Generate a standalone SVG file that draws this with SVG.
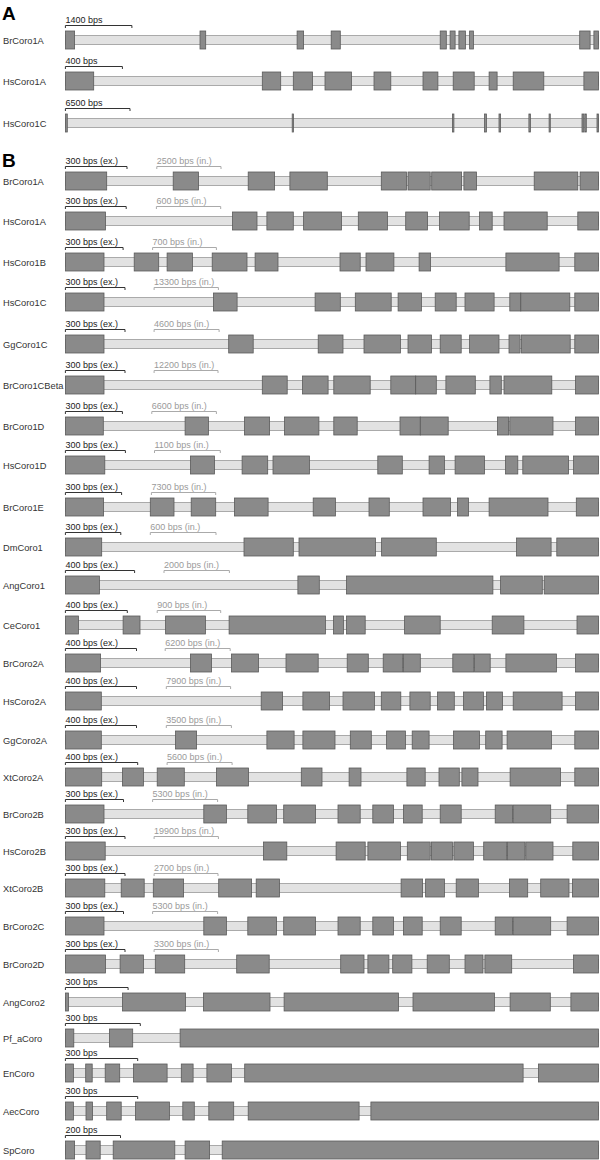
<svg xmlns="http://www.w3.org/2000/svg" width="600" height="1160" viewBox="0 0 600 1160">
<style>
.lbl{font-family:"Liberation Sans",Arial,sans-serif;font-size:9.3px;fill:#333}
.sc{font-family:"Liberation Sans",Arial,sans-serif;font-size:9px;fill:#222}
.sci{font-family:"Liberation Sans",Arial,sans-serif;font-size:9px;fill:#9a9a9a}
.bar{stroke:#333;stroke-width:1;fill:none}
.bari{stroke:#aaa;stroke-width:1;fill:none}
.ex{fill:#8a8a8a;stroke:#5a5a5a;stroke-width:0.8}
.in{fill:#e2e2e2;stroke:#999;stroke-width:0.8}
.hd{font-family:"Liberation Sans",Arial,sans-serif;font-size:19px;font-weight:bold;fill:#000}
</style>
<rect width="600" height="1160" fill="#fff"/>
<text class="hd" x="2" y="20">A</text>
<text class="hd" x="2" y="167">B</text>

<g id="a-BrCoro1A" transform="translate(0,31)">
<text class="lbl" x="3" y="12.5">BrCoro1A</text>
<text class="sc" x="65.4" y="-8">1400 bps</text>
<path class="bar" d="M65.4 -5.5H131.9M65.4 -5.5V-3M131.9 -5.5V-3"/>
<rect class="in" x="65.4" y="4.5" width="533.1" height="9"/>
<rect class="ex" x="65.4" y="0" width="9.2" height="18"/><rect class="ex" x="200" y="0" width="5.7" height="18"/><rect class="ex" x="297.1" y="0" width="6.5" height="18"/><rect class="ex" x="331.2" y="0" width="9.1" height="18"/><rect class="ex" x="440.2" y="0" width="6.1" height="18"/><rect class="ex" x="450.1" y="0" width="5" height="18"/><rect class="ex" x="458.9" y="0" width="6.5" height="18"/><rect class="ex" x="469.6" y="0" width="3.8" height="18"/><rect class="ex" x="579.7" y="0" width="10.4" height="18"/><rect class="ex" x="593.9" y="0" width="4.6" height="18"/>
</g>
<g id="a-HsCoro1A" transform="translate(0,72)">
<text class="lbl" x="3" y="12.5">HsCoro1A</text>
<text class="sc" x="65.4" y="-8">400 bps</text>
<path class="bar" d="M65.4 -5.5H122.4M65.4 -5.5V-3M122.4 -5.5V-3"/>
<rect class="in" x="65.4" y="4.5" width="533.1" height="9"/>
<rect class="ex" x="65.4" y="0" width="28.3" height="18"/><rect class="ex" x="262.3" y="0" width="18.4" height="18"/><rect class="ex" x="293.3" y="0" width="19.1" height="18"/><rect class="ex" x="325" y="0" width="26.4" height="18"/><rect class="ex" x="374" y="0" width="16.8" height="18"/><rect class="ex" x="423" y="0" width="14.9" height="18"/><rect class="ex" x="453.2" y="0" width="21" height="18"/><rect class="ex" x="489.1" y="0" width="8" height="18"/><rect class="ex" x="513.2" y="0" width="30.6" height="18"/><rect class="ex" x="583.9" y="0" width="14.6" height="18"/>
</g>
<g id="a-HsCoro1C" transform="translate(0,114)">
<text class="lbl" x="3" y="12.5">HsCoro1C</text>
<text class="sc" x="65.4" y="-8">6500 bps</text>
<path class="bar" d="M65.4 -5.5H130M65.4 -5.5V-3M130 -5.5V-3"/>
<rect class="in" x="65.4" y="4.5" width="533.1" height="9"/>
<rect class="ex" x="65.4" y="0" width="1.9" height="18"/><rect class="ex" x="292.2" y="0" width="1.2" height="18"/><rect class="ex" x="452.4" y="0" width="1.5" height="18"/><rect class="ex" x="484.5" y="0" width="1.9" height="18"/><rect class="ex" x="499" y="0" width="1.6" height="18"/><rect class="ex" x="528.9" y="0" width="1.5" height="18"/><rect class="ex" x="549.1" y="0" width="1.2" height="18"/><rect class="ex" x="582" y="0" width="1.8" height="18"/><rect class="ex" x="584.8" y="0" width="1.5" height="18"/><rect class="ex" x="597" y="0" width="1.5" height="18"/>
</g>

<g id="b-BrCoro1A" transform="translate(0,172)">
<text class="lbl" x="3" y="12.5">BrCoro1A</text>
<text class="sc" x="65.4" y="-8">300 bps (ex.)</text>
<path class="bar" d="M65.4 -5.5H127M65.4 -5.5V-3M127 -5.5V-3"/>
<text class="sci" x="156.8" y="-8">2500 bps (in.)</text>
<path class="bari" d="M156.8 -5.5H221M156.8 -5.5V-3M221 -5.5V-3"/>
<rect class="in" x="65.4" y="4.5" width="533.1" height="9"/>
<rect class="ex" x="65.4" y="0" width="41.3" height="18"/><rect class="ex" x="173.2" y="0" width="25.3" height="18"/><rect class="ex" x="248.2" y="0" width="26.4" height="18"/><rect class="ex" x="289.9" y="0" width="37.4" height="18"/><rect class="ex" x="381.3" y="0" width="25.2" height="18"/><rect class="ex" x="408" y="0" width="22.2" height="18"/><rect class="ex" x="431.7" y="0" width="29.9" height="18"/><rect class="ex" x="463.9" y="0" width="12.6" height="18"/><rect class="ex" x="534.2" y="0" width="43.6" height="18"/><rect class="ex" x="580.1" y="0" width="18.4" height="18"/>
</g>
<g id="b-HsCoro1A" transform="translate(0,212)">
<text class="lbl" x="3" y="12.5">HsCoro1A</text>
<text class="sc" x="65.4" y="-8">300 bps (ex.)</text>
<path class="bar" d="M65.4 -5.5H126.2M65.4 -5.5V-3M126.2 -5.5V-3"/>
<text class="sci" x="156.4" y="-8">600 bps (in.)</text>
<path class="bari" d="M156.4 -5.5H220.7M156.4 -5.5V-3M220.7 -5.5V-3"/>
<rect class="in" x="65.4" y="4.5" width="533.1" height="9"/>
<rect class="ex" x="65.4" y="0" width="40.1" height="18"/><rect class="ex" x="232.5" y="0" width="24.5" height="18"/><rect class="ex" x="266.9" y="0" width="26.4" height="18"/><rect class="ex" x="303.6" y="0" width="37.9" height="18"/><rect class="ex" x="358.3" y="0" width="29.1" height="18"/><rect class="ex" x="405.7" y="0" width="21.8" height="18"/><rect class="ex" x="439.4" y="0" width="29.8" height="18"/><rect class="ex" x="479.5" y="0" width="12.7" height="18"/><rect class="ex" x="504" y="0" width="43.2" height="18"/><rect class="ex" x="577.8" y="0" width="20.7" height="18"/>
</g>
<g id="b-HsCoro1B" transform="translate(0,253)">
<text class="lbl" x="3" y="12.5">HsCoro1B</text>
<text class="sc" x="65.4" y="-8">300 bps (ex.)</text>
<path class="bar" d="M65.4 -5.5H123.1M65.4 -5.5V-3M123.1 -5.5V-3"/>
<text class="sci" x="152.6" y="-8">700 bps (in.)</text>
<path class="bari" d="M152.6 -5.5H216.4M152.6 -5.5V-3M216.4 -5.5V-3"/>
<rect class="in" x="65.4" y="4.5" width="533.1" height="9"/>
<rect class="ex" x="65.4" y="0" width="38.6" height="18"/><rect class="ex" x="134.2" y="0" width="24.5" height="18"/><rect class="ex" x="167.1" y="0" width="25.3" height="18"/><rect class="ex" x="212.2" y="0" width="34.8" height="18"/><rect class="ex" x="255.1" y="0" width="22.9" height="18"/><rect class="ex" x="340" y="0" width="20.2" height="18"/><rect class="ex" x="366" y="0" width="27.9" height="18"/><rect class="ex" x="419.1" y="0" width="11.5" height="18"/><rect class="ex" x="505.9" y="0" width="53.2" height="18"/><rect class="ex" x="574.8" y="0" width="23.7" height="18"/>
</g>
<g id="b-HsCoro1C" transform="translate(0,293)">
<text class="lbl" x="3" y="12.5">HsCoro1C</text>
<text class="sc" x="65.4" y="-8">300 bps (ex.)</text>
<path class="bar" d="M65.4 -5.5H125M65.4 -5.5V-3M125 -5.5V-3"/>
<text class="sci" x="154.1" y="-8">13300 bps (in.)</text>
<path class="bari" d="M154.1 -5.5H218.4M154.1 -5.5V-3M218.4 -5.5V-3"/>
<rect class="in" x="65.4" y="4.5" width="533.1" height="9"/>
<rect class="ex" x="65.4" y="0" width="38.6" height="18"/><rect class="ex" x="213.4" y="0" width="23.7" height="18"/><rect class="ex" x="315.1" y="0" width="25.2" height="18"/><rect class="ex" x="355.3" y="0" width="35.9" height="18"/><rect class="ex" x="398.1" y="0" width="23.3" height="18"/><rect class="ex" x="435.2" y="0" width="21" height="18"/><rect class="ex" x="465" y="0" width="29.1" height="18"/><rect class="ex" x="509.8" y="0" width="11" height="18"/><rect class="ex" x="520.8" y="0" width="49" height="18"/><rect class="ex" x="574.8" y="0" width="23.7" height="18"/>
</g>
<g id="b-GgCoro1C" transform="translate(0,335)">
<text class="lbl" x="3" y="12.5">GgCoro1C</text>
<text class="sc" x="65.4" y="-8">300 bps (ex.)</text>
<path class="bar" d="M65.4 -5.5H125M65.4 -5.5V-3M125 -5.5V-3"/>
<text class="sci" x="154.1" y="-8">4600 bps (in.)</text>
<path class="bari" d="M154.1 -5.5H219.1M154.1 -5.5V-3M219.1 -5.5V-3"/>
<rect class="in" x="65.4" y="4.5" width="533.1" height="9"/>
<rect class="ex" x="65.4" y="0" width="38.6" height="18"/><rect class="ex" x="228.7" y="0" width="24.5" height="18"/><rect class="ex" x="318.2" y="0" width="24.8" height="18"/><rect class="ex" x="364" y="0" width="36.4" height="18"/><rect class="ex" x="408" y="0" width="23.4" height="18"/><rect class="ex" x="440.2" y="0" width="21" height="18"/><rect class="ex" x="469.6" y="0" width="29.4" height="18"/><rect class="ex" x="509" y="0" width="11.1" height="18"/><rect class="ex" x="521.6" y="0" width="48.6" height="18"/><rect class="ex" x="574.8" y="0" width="23.7" height="18"/>
</g>
<g id="b-BrCoro1CBeta" transform="translate(0,376)">
<text class="lbl" x="3" y="12.5">BrCoro1CBeta</text>
<text class="sc" x="65.4" y="-8">300 bps (ex.)</text>
<path class="bar" d="M65.4 -5.5H125M65.4 -5.5V-3M125 -5.5V-3"/>
<text class="sci" x="154.1" y="-8">12200 bps (in.)</text>
<path class="bari" d="M154.1 -5.5H218M154.1 -5.5V-3M218 -5.5V-3"/>
<rect class="in" x="65.4" y="4.5" width="533.1" height="9"/>
<rect class="ex" x="65.4" y="0" width="38.6" height="18"/><rect class="ex" x="262.3" y="0" width="24.9" height="18"/><rect class="ex" x="302.5" y="0" width="25.6" height="18"/><rect class="ex" x="333.8" y="0" width="36.4" height="18"/><rect class="ex" x="390.8" y="0" width="24.9" height="18"/><rect class="ex" x="415.7" y="0" width="20.6" height="18"/><rect class="ex" x="445.9" y="0" width="29.4" height="18"/><rect class="ex" x="489.9" y="0" width="11.4" height="18"/><rect class="ex" x="504" y="0" width="47.8" height="18"/><rect class="ex" x="575.5" y="0" width="23" height="18"/>
</g>
<g id="b-BrCoro1D" transform="translate(0,417)">
<text class="lbl" x="3" y="12.5">BrCoro1D</text>
<text class="sc" x="65.4" y="-8">300 bps (ex.)</text>
<path class="bar" d="M65.4 -5.5H122.4M65.4 -5.5V-3M122.4 -5.5V-3"/>
<text class="sci" x="151.8" y="-8">6600 bps (in.)</text>
<path class="bari" d="M151.8 -5.5H216.4M151.8 -5.5V-3M216.4 -5.5V-3"/>
<rect class="in" x="65.4" y="4.5" width="533.1" height="9"/>
<rect class="ex" x="65.4" y="0" width="37.9" height="18"/><rect class="ex" x="185.1" y="0" width="23.3" height="18"/><rect class="ex" x="244.4" y="0" width="25.2" height="18"/><rect class="ex" x="284.5" y="0" width="34.4" height="18"/><rect class="ex" x="333.8" y="0" width="23.4" height="18"/><rect class="ex" x="400" y="0" width="20.3" height="18"/><rect class="ex" x="420.3" y="0" width="27.9" height="18"/><rect class="ex" x="497.5" y="0" width="11.1" height="18"/><rect class="ex" x="509.8" y="0" width="43.2" height="18"/><rect class="ex" x="575.5" y="0" width="23" height="18"/>
</g>
<g id="b-HsCoro1D" transform="translate(0,456)">
<text class="lbl" x="3" y="12.5">HsCoro1D</text>
<text class="sc" x="65.4" y="-8">300 bps (ex.)</text>
<path class="bar" d="M65.4 -5.5H125.4M65.4 -5.5V-3M125.4 -5.5V-3"/>
<text class="sci" x="154.5" y="-8">1100 bps (in.)</text>
<path class="bari" d="M154.5 -5.5H220.3M154.5 -5.5V-3M220.3 -5.5V-3"/>
<rect class="in" x="65.4" y="4.5" width="533.1" height="9"/>
<rect class="ex" x="65.4" y="0" width="39.4" height="18"/><rect class="ex" x="190.4" y="0" width="24.1" height="18"/><rect class="ex" x="242.1" y="0" width="25.6" height="18"/><rect class="ex" x="273" y="0" width="36.4" height="18"/><rect class="ex" x="377.8" y="0" width="24.5" height="18"/><rect class="ex" x="429.1" y="0" width="15.3" height="18"/><rect class="ex" x="455.1" y="0" width="29.4" height="18"/><rect class="ex" x="505.5" y="0" width="12.3" height="18"/><rect class="ex" x="522.8" y="0" width="45.8" height="18"/><rect class="ex" x="573.6" y="0" width="24.9" height="18"/>
</g>
<g id="b-BrCoro1E" transform="translate(0,498)">
<text class="lbl" x="3" y="12.5">BrCoro1E</text>
<text class="sc" x="65.4" y="-8">300 bps (ex.)</text>
<path class="bar" d="M65.4 -5.5H121.6M65.4 -5.5V-3M121.6 -5.5V-3"/>
<text class="sci" x="151.4" y="-8">7300 bps (in.)</text>
<path class="bari" d="M151.4 -5.5H215.7M151.4 -5.5V-3M215.7 -5.5V-3"/>
<rect class="in" x="65.4" y="4.5" width="533.1" height="9"/>
<rect class="ex" x="65.4" y="0" width="38.2" height="18"/><rect class="ex" x="150.3" y="0" width="23.7" height="18"/><rect class="ex" x="191.2" y="0" width="24.5" height="18"/><rect class="ex" x="234.4" y="0" width="33.7" height="18"/><rect class="ex" x="313.2" y="0" width="22.2" height="18"/><rect class="ex" x="369" y="0" width="20.3" height="18"/><rect class="ex" x="423" y="0" width="27.5" height="18"/><rect class="ex" x="457.4" y="0" width="11.1" height="18"/><rect class="ex" x="489.1" y="0" width="58.9" height="18"/><rect class="ex" x="576.3" y="0" width="22.2" height="18"/>
</g>
<g id="b-DmCoro1" transform="translate(0,538)">
<text class="lbl" x="3" y="12.5">DmCoro1</text>
<text class="sc" x="65.4" y="-8">300 bps (ex.)</text>
<path class="bar" d="M65.4 -5.5H120.8M65.4 -5.5V-3M120.8 -5.5V-3"/>
<text class="sci" x="150.3" y="-8">600 bps (in.)</text>
<path class="bari" d="M150.3 -5.5H216M150.3 -5.5V-3M216 -5.5V-3"/>
<rect class="in" x="65.4" y="4.5" width="533.1" height="9"/>
<rect class="ex" x="65.4" y="0" width="36.3" height="18"/><rect class="ex" x="244" y="0" width="49.3" height="18"/><rect class="ex" x="299" y="0" width="76.5" height="18"/><rect class="ex" x="381.6" y="0" width="54.7" height="18"/><rect class="ex" x="516.6" y="0" width="34.5" height="18"/><rect class="ex" x="556.8" y="0" width="41.7" height="18"/>
</g>
<g id="b-AngCoro1" transform="translate(0,576)">
<text class="lbl" x="3" y="12.5">AngCoro1</text>
<text class="sc" x="65.4" y="-8">400 bps (ex.)</text>
<path class="bar" d="M65.4 -5.5H134.6M65.4 -5.5V-3M134.6 -5.5V-3"/>
<text class="sci" x="164" y="-8">2000 bps (in.)</text>
<path class="bari" d="M164 -5.5H229.4M164 -5.5V-3M229.4 -5.5V-3"/>
<rect class="in" x="65.4" y="4.5" width="533.1" height="9"/>
<rect class="ex" x="65.4" y="0" width="34" height="18"/><rect class="ex" x="297.9" y="0" width="21.4" height="18"/><rect class="ex" x="346.5" y="0" width="146.4" height="18"/><rect class="ex" x="500.6" y="0" width="41.7" height="18"/><rect class="ex" x="544.2" y="0" width="54.3" height="18"/>
</g>
<g id="b-CeCoro1" transform="translate(0,616)">
<text class="lbl" x="3" y="12.5">CeCoro1</text>
<text class="sc" x="65.4" y="-8">400 bps (ex.)</text>
<path class="bar" d="M65.4 -5.5H127.3M65.4 -5.5V-3M127.3 -5.5V-3"/>
<text class="sci" x="157.2" y="-8">900 bps (in.)</text>
<path class="bari" d="M157.2 -5.5H220.7M157.2 -5.5V-3M220.7 -5.5V-3"/>
<rect class="in" x="65.4" y="4.5" width="533.1" height="9"/>
<rect class="ex" x="65.4" y="0" width="13" height="18"/><rect class="ex" x="123.1" y="0" width="16.9" height="18"/><rect class="ex" x="165.6" y="0" width="39.8" height="18"/><rect class="ex" x="229.1" y="0" width="96.3" height="18"/><rect class="ex" x="333.5" y="0" width="9.9" height="18"/><rect class="ex" x="346.5" y="0" width="18.7" height="18"/><rect class="ex" x="404.6" y="0" width="35.6" height="18"/><rect class="ex" x="492.2" y="0" width="31.7" height="18"/><rect class="ex" x="577" y="0" width="21.5" height="18"/>
</g>
<g id="b-BrCoro2A" transform="translate(0,654)">
<text class="lbl" x="3" y="12.5">BrCoro2A</text>
<text class="sc" x="65.4" y="-8">400 bps (ex.)</text>
<path class="bar" d="M65.4 -5.5H136.5M65.4 -5.5V-3M136.5 -5.5V-3"/>
<text class="sci" x="165.2" y="-8">6200 bps (in.)</text>
<path class="bari" d="M165.2 -5.5H230.2M165.2 -5.5V-3M230.2 -5.5V-3"/>
<rect class="in" x="65.4" y="4.5" width="533.1" height="9"/>
<rect class="ex" x="65.4" y="0" width="35.2" height="18"/><rect class="ex" x="190.4" y="0" width="21.1" height="18"/><rect class="ex" x="231.4" y="0" width="27.1" height="18"/><rect class="ex" x="286" y="0" width="32.2" height="18"/><rect class="ex" x="347.2" y="0" width="21.1" height="18"/><rect class="ex" x="383.2" y="0" width="19.5" height="18"/><rect class="ex" x="403.4" y="0" width="16.9" height="18"/><rect class="ex" x="452.8" y="0" width="21" height="18"/><rect class="ex" x="474.6" y="0" width="15.6" height="18"/><rect class="ex" x="505.9" y="0" width="50.5" height="18"/><rect class="ex" x="575.5" y="0" width="23" height="18"/>
</g>
<g id="b-HsCoro2A" transform="translate(0,692)">
<text class="lbl" x="3" y="12.5">HsCoro2A</text>
<text class="sc" x="65.4" y="-8">400 bps (ex.)</text>
<path class="bar" d="M65.4 -5.5H136.5M65.4 -5.5V-3M136.5 -5.5V-3"/>
<text class="sci" x="166.3" y="-8">7900 bps (in.)</text>
<path class="bari" d="M166.3 -5.5H230.6M166.3 -5.5V-3M230.6 -5.5V-3"/>
<rect class="in" x="65.4" y="4.5" width="533.1" height="9"/>
<rect class="ex" x="65.4" y="0" width="35.9" height="18"/><rect class="ex" x="261.2" y="0" width="21.4" height="18"/><rect class="ex" x="302.9" y="0" width="26.7" height="18"/><rect class="ex" x="343" y="0" width="31.4" height="18"/><rect class="ex" x="381.3" y="0" width="19.5" height="18"/><rect class="ex" x="409.9" y="0" width="20.3" height="18"/><rect class="ex" x="437.5" y="0" width="16.8" height="18"/><rect class="ex" x="463.5" y="0" width="19.9" height="18"/><rect class="ex" x="486.4" y="0" width="16.1" height="18"/><rect class="ex" x="513.2" y="0" width="48.9" height="18"/><rect class="ex" x="575.5" y="0" width="23" height="18"/>
</g>
<g id="b-GgCoro2A" transform="translate(0,731)">
<text class="lbl" x="3" y="12.5">GgCoro2A</text>
<text class="sc" x="65.4" y="-8">400 bps (ex.)</text>
<path class="bar" d="M65.4 -5.5H136.5M65.4 -5.5V-3M136.5 -5.5V-3"/>
<text class="sci" x="166.3" y="-8">3500 bps (in.)</text>
<path class="bari" d="M166.3 -5.5H231.4M166.3 -5.5V-3M231.4 -5.5V-3"/>
<rect class="in" x="65.4" y="4.5" width="533.1" height="9"/>
<rect class="ex" x="65.4" y="0" width="35.9" height="18"/><rect class="ex" x="175.5" y="0" width="21.1" height="18"/><rect class="ex" x="266.9" y="0" width="27.2" height="18"/><rect class="ex" x="302.9" y="0" width="32.1" height="18"/><rect class="ex" x="350.3" y="0" width="21" height="18"/><rect class="ex" x="386.6" y="0" width="18.8" height="18"/><rect class="ex" x="412.2" y="0" width="16.9" height="18"/><rect class="ex" x="453.5" y="0" width="26" height="18"/><rect class="ex" x="485.7" y="0" width="16.4" height="18"/><rect class="ex" x="507.1" y="0" width="44.3" height="18"/><rect class="ex" x="574.8" y="0" width="23.7" height="18"/>
</g>
<g id="b-XtCoro2A" transform="translate(0,768)">
<text class="lbl" x="3" y="12.5">XtCoro2A</text>
<text class="sc" x="65.4" y="-8">400 bps (ex.)</text>
<path class="bar" d="M65.4 -5.5H137.7M65.4 -5.5V-3M137.7 -5.5V-3"/>
<text class="sci" x="167.1" y="-8">5600 bps (in.)</text>
<path class="bari" d="M167.1 -5.5H232.1M167.1 -5.5V-3M232.1 -5.5V-3"/>
<rect class="in" x="65.4" y="4.5" width="533.1" height="9"/>
<rect class="ex" x="65.4" y="0" width="36.3" height="18"/><rect class="ex" x="122.4" y="0" width="21" height="18"/><rect class="ex" x="157.2" y="0" width="27.1" height="18"/><rect class="ex" x="216.4" y="0" width="32.2" height="18"/><rect class="ex" x="301.3" y="0" width="20.7" height="18"/><rect class="ex" x="349.1" y="0" width="11.9" height="18"/><rect class="ex" x="406.9" y="0" width="18.3" height="18"/><rect class="ex" x="439" y="0" width="20.3" height="18"/><rect class="ex" x="461.9" y="0" width="16.1" height="18"/><rect class="ex" x="510.1" y="0" width="50.5" height="18"/><rect class="ex" x="574.8" y="0" width="23.7" height="18"/>
</g>
<g id="b-BrCoro2B" transform="translate(0,805)">
<text class="lbl" x="3" y="12.5">BrCoro2B</text>
<text class="sc" x="65.4" y="-8">300 bps (ex.)</text>
<path class="bar" d="M65.4 -5.5H123.5M65.4 -5.5V-3M123.5 -5.5V-3"/>
<text class="sci" x="152.6" y="-8">5300 bps (in.)</text>
<path class="bari" d="M152.6 -5.5H217.6M152.6 -5.5V-3M217.6 -5.5V-3"/>
<rect class="in" x="65.4" y="4.5" width="533.1" height="9"/>
<rect class="ex" x="65.4" y="0" width="38.6" height="18"/><rect class="ex" x="203.8" y="0" width="22.6" height="18"/><rect class="ex" x="247.8" y="0" width="28.7" height="18"/><rect class="ex" x="283.7" y="0" width="31.8" height="18"/><rect class="ex" x="338" y="0" width="22.2" height="18"/><rect class="ex" x="372.8" y="0" width="20.7" height="18"/><rect class="ex" x="403.4" y="0" width="18.8" height="18"/><rect class="ex" x="440.2" y="0" width="21" height="18"/><rect class="ex" x="495.2" y="0" width="17.2" height="18"/><rect class="ex" x="513.2" y="0" width="37.5" height="18"/><rect class="ex" x="567.1" y="0" width="31.4" height="18"/>
</g>
<g id="b-HsCoro2B" transform="translate(0,842)">
<text class="lbl" x="3" y="12.5">HsCoro2B</text>
<text class="sc" x="65.4" y="-8">300 bps (ex.)</text>
<path class="bar" d="M65.4 -5.5H125M65.4 -5.5V-3M125 -5.5V-3"/>
<text class="sci" x="154.1" y="-8">19900 bps (in.)</text>
<path class="bari" d="M154.1 -5.5H218.4M154.1 -5.5V-3M218.4 -5.5V-3"/>
<rect class="in" x="65.4" y="4.5" width="533.1" height="9"/>
<rect class="ex" x="65.4" y="0" width="39.8" height="18"/><rect class="ex" x="263.5" y="0" width="23.3" height="18"/><rect class="ex" x="336.1" y="0" width="29.1" height="18"/><rect class="ex" x="367.9" y="0" width="32.5" height="18"/><rect class="ex" x="407.3" y="0" width="22.9" height="18"/><rect class="ex" x="431.4" y="0" width="21" height="18"/><rect class="ex" x="453.9" y="0" width="19.5" height="18"/><rect class="ex" x="483.7" y="0" width="23" height="18"/><rect class="ex" x="507.5" y="0" width="17.5" height="18"/><rect class="ex" x="525.8" y="0" width="27.2" height="18"/><rect class="ex" x="572.8" y="0" width="25.7" height="18"/>
</g>
<g id="b-XtCoro2B" transform="translate(0,879)">
<text class="lbl" x="3" y="12.5">XtCoro2B</text>
<text class="sc" x="65.4" y="-8">300 bps (ex.)</text>
<path class="bar" d="M65.4 -5.5H125M65.4 -5.5V-3M125 -5.5V-3"/>
<text class="sci" x="154.1" y="-8">2700 bps (in.)</text>
<path class="bari" d="M154.1 -5.5H218M154.1 -5.5V-3M218 -5.5V-3"/>
<rect class="in" x="65.4" y="4.5" width="533.1" height="9"/>
<rect class="ex" x="65.4" y="0" width="39.4" height="18"/><rect class="ex" x="121.2" y="0" width="23" height="18"/><rect class="ex" x="153.3" y="0" width="30.3" height="18"/><rect class="ex" x="218.7" y="0" width="32.9" height="18"/><rect class="ex" x="256.2" y="0" width="23.3" height="18"/><rect class="ex" x="401.1" y="0" width="21.5" height="18"/><rect class="ex" x="425.6" y="0" width="18.8" height="18"/><rect class="ex" x="456.2" y="0" width="22.2" height="18"/><rect class="ex" x="509.4" y="0" width="18.3" height="18"/><rect class="ex" x="540.7" y="0" width="28.3" height="18"/><rect class="ex" x="572.4" y="0" width="26.1" height="18"/>
</g>
<g id="b-BrCoro2C" transform="translate(0,917)">
<text class="lbl" x="3" y="12.5">BrCoro2C</text>
<text class="sc" x="65.4" y="-8">300 bps (ex.)</text>
<path class="bar" d="M65.4 -5.5H123.5M65.4 -5.5V-3M123.5 -5.5V-3"/>
<text class="sci" x="152.6" y="-8">5300 bps (in.)</text>
<path class="bari" d="M152.6 -5.5H217.6M152.6 -5.5V-3M217.6 -5.5V-3"/>
<rect class="in" x="65.4" y="4.5" width="533.1" height="9"/>
<rect class="ex" x="65.4" y="0" width="38.6" height="18"/><rect class="ex" x="203.8" y="0" width="22.6" height="18"/><rect class="ex" x="247.8" y="0" width="28.7" height="18"/><rect class="ex" x="283.7" y="0" width="31.8" height="18"/><rect class="ex" x="338" y="0" width="22.2" height="18"/><rect class="ex" x="372.8" y="0" width="20.7" height="18"/><rect class="ex" x="403.4" y="0" width="18.8" height="18"/><rect class="ex" x="440.2" y="0" width="21" height="18"/><rect class="ex" x="495.2" y="0" width="17.2" height="18"/><rect class="ex" x="513.2" y="0" width="37.5" height="18"/><rect class="ex" x="567.1" y="0" width="31.4" height="18"/>
</g>
<g id="b-BrCoro2D" transform="translate(0,955)">
<text class="lbl" x="3" y="12.5">BrCoro2D</text>
<text class="sc" x="65.4" y="-8">300 bps (ex.)</text>
<path class="bar" d="M65.4 -5.5H125M65.4 -5.5V-3M125 -5.5V-3"/>
<text class="sci" x="154.1" y="-8">3300 bps (in.)</text>
<path class="bari" d="M154.1 -5.5H218.4M154.1 -5.5V-3M218.4 -5.5V-3"/>
<rect class="in" x="65.4" y="4.5" width="533.1" height="9"/>
<rect class="ex" x="65.4" y="0" width="40.1" height="18"/><rect class="ex" x="120.1" y="0" width="23.3" height="18"/><rect class="ex" x="155.3" y="0" width="29.4" height="18"/><rect class="ex" x="236.7" y="0" width="32.5" height="18"/><rect class="ex" x="340.7" y="0" width="23.3" height="18"/><rect class="ex" x="367.9" y="0" width="21" height="18"/><rect class="ex" x="392.7" y="0" width="19.2" height="18"/><rect class="ex" x="427.2" y="0" width="22.1" height="18"/><rect class="ex" x="465" y="0" width="18" height="18"/><rect class="ex" x="484.9" y="0" width="26.8" height="18"/><rect class="ex" x="573.6" y="0" width="24.9" height="18"/>
</g>
<g id="b-AngCoro2" transform="translate(0,993)">
<text class="lbl" x="3" y="12.5">AngCoro2</text>
<text class="sc" x="65.4" y="-8">300 bps</text>
<path class="bar" d="M65.4 -5.5H128.1M65.4 -5.5V-3M128.1 -5.5V-3"/>
<rect class="in" x="65.4" y="4.5" width="533.1" height="9"/>
<rect class="ex" x="65.4" y="0" width="3.1" height="18"/><rect class="ex" x="122.4" y="0" width="63.1" height="18"/><rect class="ex" x="203.4" y="0" width="66.6" height="18"/><rect class="ex" x="284.1" y="0" width="114.4" height="18"/><rect class="ex" x="413" y="0" width="81.5" height="18"/><rect class="ex" x="510.1" y="0" width="40.2" height="18"/><rect class="ex" x="570.9" y="0" width="27.6" height="18"/>
</g>
<g id="b-Pf_aCoro" transform="translate(0,1029)">
<text class="lbl" x="3" y="12.5">Pf_aCoro</text>
<text class="sc" x="65.4" y="-8">300 bps</text>
<path class="bar" d="M65.4 -5.5H140.3M65.4 -5.5V-3M140.3 -5.5V-3"/>
<rect class="in" x="65.4" y="4.5" width="533.1" height="9"/>
<rect class="ex" x="65.4" y="0" width="8.4" height="18"/><rect class="ex" x="109.4" y="0" width="23.3" height="18"/><rect class="ex" x="180.1" y="0" width="418.4" height="18"/>
</g>
<g id="b-EnCoro" transform="translate(0,1064)">
<text class="lbl" x="3" y="12.5">EnCoro</text>
<text class="sc" x="65.4" y="-8">300 bps</text>
<path class="bar" d="M65.4 -5.5H137.7M65.4 -5.5V-3M137.7 -5.5V-3"/>
<rect class="in" x="65.4" y="4.5" width="533.1" height="9"/>
<rect class="ex" x="65.4" y="0" width="8" height="18"/><rect class="ex" x="85.7" y="0" width="6.5" height="18"/><rect class="ex" x="105.2" y="0" width="14.5" height="18"/><rect class="ex" x="133.5" y="0" width="33.6" height="18"/><rect class="ex" x="181.3" y="0" width="11.8" height="18"/><rect class="ex" x="206.9" y="0" width="24.5" height="18"/><rect class="ex" x="244.7" y="0" width="278.4" height="18"/><rect class="ex" x="538.4" y="0" width="60.1" height="18"/>
</g>
<g id="b-AecCoro" transform="translate(0,1102)">
<text class="lbl" x="3" y="12.5">AecCoro</text>
<text class="sc" x="65.4" y="-8">300 bps</text>
<path class="bar" d="M65.4 -5.5H137.7M65.4 -5.5V-3M137.7 -5.5V-3"/>
<rect class="in" x="65.4" y="4.5" width="533.1" height="9"/>
<rect class="ex" x="65.4" y="0" width="8" height="18"/><rect class="ex" x="86" y="0" width="6.5" height="18"/><rect class="ex" x="106.7" y="0" width="14.5" height="18"/><rect class="ex" x="135.4" y="0" width="34" height="18"/><rect class="ex" x="182.8" y="0" width="11.5" height="18"/><rect class="ex" x="208.8" y="0" width="24.9" height="18"/><rect class="ex" x="248.2" y="0" width="110.9" height="18"/><rect class="ex" x="370.9" y="0" width="227.6" height="18"/>
</g>
<g id="b-SpCoro" transform="translate(0,1141)">
<text class="lbl" x="3" y="12.5">SpCoro</text>
<text class="sc" x="65.4" y="-8">200 bps</text>
<path class="bar" d="M65.4 -5.5H120.5M65.4 -5.5V-3M120.5 -5.5V-3"/>
<rect class="in" x="65.4" y="4.5" width="533.1" height="9"/>
<rect class="ex" x="65.4" y="0" width="9.2" height="18"/><rect class="ex" x="86" y="0" width="14.2" height="18"/><rect class="ex" x="113.2" y="0" width="61.6" height="18"/><rect class="ex" x="185.1" y="0" width="24.5" height="18"/><rect class="ex" x="222.2" y="0" width="376.3" height="18"/>
</g>
</svg>
